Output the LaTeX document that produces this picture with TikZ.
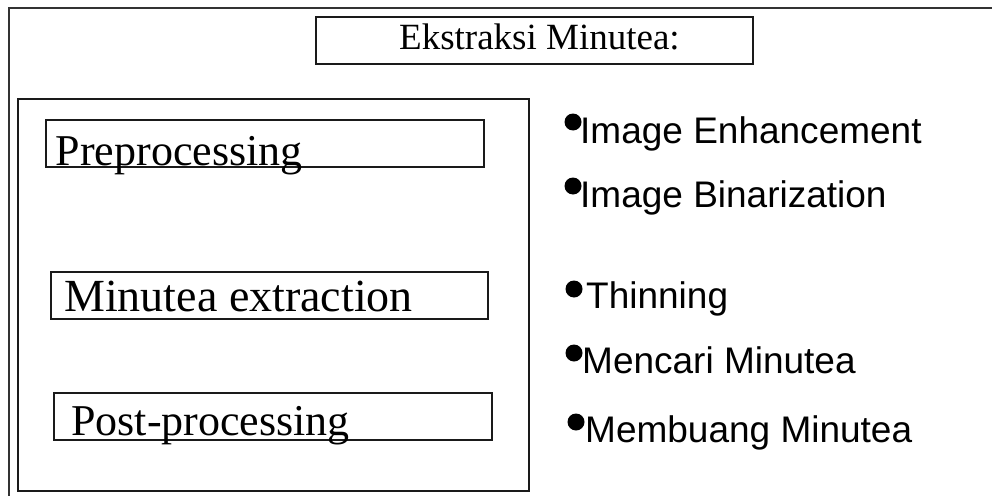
\documentclass[tikz,border=0pt]{standalone}
\usepackage{fontspec}
\setmainfont{Liberation Serif}
\setsansfont{Liberation Sans}
\usepackage{tikz}
\usetikzlibrary{
  positioning,
  calc
}
\definecolor{emLine}{HTML}{1A1A1A}
\definecolor{emFrame}{HTML}{333333}
\tikzset{
  emrect/.style={draw=emLine, line width=2pt, inner sep=0pt},
  framebox/.style={emrect, draw=emFrame},
  titlebox/.style={emrect, minimum width=437pt, minimum height=47pt},
  stagebox/.style={emrect, minimum width=438pt, minimum height=47pt},
  stagetext/.style={font=\fontsize{44}{48}\selectfont, inner sep=0pt, anchor=base west},
  titletext/.style={font=\fontsize{37}{40}\selectfont, inner sep=0pt, anchor=base west},
  itemtext/.style={font=\sffamily\fontsize{37}{40}\selectfont, inner sep=0pt, anchor=base west},
  itemdot/.style={circle, fill=black, inner sep=0pt, minimum size=17pt}
}

\begin{document}
\begin{tikzpicture}[x=1pt, y=-1pt]
  \useasboundingbox (0,0) rectangle (992,495);
  \clip (0,0) rectangle (992,495);
  \fill[white] (0,0) rectangle (992,495);

  % outer frame, runs off the page to the right and below
  \draw[framebox] (9,8) rectangle (1010,515);

  % heading
  \node[titlebox] (title) at (534.5,40.5) {};
  \node[titletext] (titlelbl) at (399,50) {Ekstraksi Minutea:};

  % left block with the three stages
  \draw[emrect] (18,99) rectangle (529,491);
  \node[stagebox] (pre) at (264.5,143.5) {};
  \node[stagetext] (prelbl) at ([xshift=11pt,yshift=3pt]pre.south west) {Preprocessing};
  \node[stagebox, minimum width=437pt] (extr) at (269.5,295) {};
  \node[stagetext, font=\fontsize{46}{50}\selectfont] (extrlbl)
    at ([xshift=14pt,yshift=8pt]extr.south west) {Minutea extraction};
  \node[stagebox] (post) at (273,416) {};
  \node[stagetext] (postlbl) at ([xshift=18pt,yshift=5pt]post.south west) {Post-processing};

  % steps on the right
  \node[itemdot] (d1) at (573,122) {};
  \node[itemtext] (s1) at (580,143) {Image Enhancement};
  \node[itemdot] (d2) at (573,186) {};
  \node[itemtext] (s2) at (580,207) {Image Binarization};
  \node[itemdot] (d3) at (574,289) {};
  \node[itemtext] (s3) at (586,308) {Thinning};
  \node[itemdot] (d4) at (574,353) {};
  \node[itemtext] (s4) at (582,373) {Mencari Minutea};
  \node[itemdot] (d5) at (576,422) {};
  \node[itemtext] (s5) at (585,442) {Membuang Minutea};
\end{tikzpicture}
\end{document}
